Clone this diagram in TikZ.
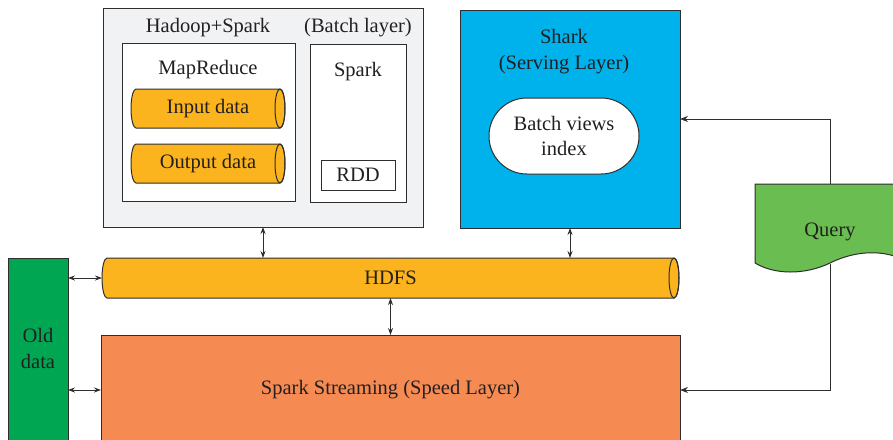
\documentclass[tikz,border=0pt]{standalone}
\usepackage{fontspec}
\setmainfont{Liberation Serif}
\usetikzlibrary{arrows.meta}
\definecolor{linec}{HTML}{2E2E2E}
\definecolor{txtc}{HTML}{231F20}
\definecolor{batchgray}{HTML}{F1F2F4}
\definecolor{sharkblue}{HTML}{00B2EC}
\definecolor{cylorange}{HTML}{FBB41D}
\definecolor{oldgreen}{HTML}{00A651}
\definecolor{streamorange}{HTML}{F58B52}
\definecolor{querygreen}{HTML}{6ABD50}
% cylinder outline: left, top, right, bottom, x radius of end ellipse
\newcommand\cylshape[5]{%
  \path[draw=linec, line width=1pt, fill=cylorange]
    ({#1+#5},#2) -- ({#3-#5},#2)
    arc[start angle=-90, end angle=90, x radius=#5, y radius={(#4-#2)/2}]
    -- ({#1+#5},#4)
    arc[start angle=90, end angle=270, x radius=#5, y radius={(#4-#2)/2}]
    -- cycle;
  \draw[linec, line width=1pt] ({#3-#5},{(#2+#4)/2}) ellipse[x radius=#5, y radius={(#4-#2)/2}];
}
\begin{document}
\begin{tikzpicture}[x=1pt,y=-1pt,
  every node/.style={font=\fontsize{20.5}{25.5}\selectfont, text=txtc},
  box/.style={draw=linec, line width=1pt, rectangle, inner sep=0pt, outer sep=0pt},
  cyl/.style={rectangle, inner sep=0pt, outer sep=0pt},
  lbl/.style={anchor=base, inner sep=0pt},
  dbl/.style={draw=linec, line width=0.9pt, {Stealth[length=7pt,width=5pt]}-{Stealth[length=7pt,width=5pt]}},
  arr/.style={draw=linec, line width=0.9pt, -{Stealth[length=8pt,width=6pt]}}]
\useasboundingbox (0,0) rectangle (893,439);
\clip (0,0) rectangle (893,439);

% Batch layer
\node[box, fill=batchgray, minimum width=320pt, minimum height=219pt] (batch) at (263,117.5) {};
\node[lbl] (hs) at (208,32) {Hadoop+Spark};
\node[lbl] (bl) at (358,32) {(Batch layer)};
\node[box, fill=white, minimum width=173pt, minimum height=158pt] (mr) at (208.5,122) {};
\node[lbl] (mrt) at (208,74) {MapReduce};
\cylshape{131}{89}{285}{128}{5}
\node[cyl, minimum width=154pt, minimum height=39pt] (inp) at (208,108.5) {Input data};
\cylshape{131}{144}{285}{183}{5}
\node[cyl, minimum width=154pt, minimum height=39pt] (outp) at (208,163.5) {Output data};
\node[box, fill=white, minimum width=96pt, minimum height=158pt] (spk) at (358,123) {};
\node[lbl] (spkt) at (358,76) {Spark};
\node[box, fill=white, minimum width=74pt, minimum height=30pt] (rdd) at (358,175) {RDD};

% Serving layer
\node[box, fill=sharkblue, minimum width=220pt, minimum height=218pt] (shark) at (570,119) {};
\node[lbl] (sh1) at (564,43) {Shark};
\node[lbl] (sh2) at (564,69) {(Serving Layer)};
\node[box, fill=white, minimum width=150pt, minimum height=76pt, rounded corners=37.9pt, align=center] (bvi) at (564,136) {Batch views\\index};

% HDFS
\cylshape{102}{258}{679}{298}{5}
\node[cyl, minimum width=577pt, minimum height=40pt] (hdfs) at (390.5,278) {HDFS};

% Old data
\node[box, fill=oldgreen, minimum width=60pt, minimum height=187pt] (old) at (38,351.5) {};
\node[lbl] (old1) at (38,342) {Old};
\node[lbl] (old2) at (38,368) {data};

% Speed layer
\node[box, fill=streamorange, minimum width=579pt, minimum height=110pt] (stream) at (390.5,390) {Spark Streaming (Speed Layer)};

% Query
\path[draw=linec, line width=1pt, fill=querygreen]
  (897,184) -- (755,184) -- (755,263)
  .. controls (775,275) and (805,275) .. (830,263)
  .. controls (850,253) and (875,249) .. (897,257);
\node[inner sep=0pt] (query) at (830,231.5) {Query};
\coordinate (qtop) at (830,184);
\coordinate (qbot) at (830,264);

% Connectors
\draw[dbl] (batch.south) -- (batch.south |- hdfs.north);
\draw[dbl] (shark.south) -- (shark.south |- hdfs.north);
\draw[dbl] (hdfs.south) -- (stream.north);
\draw[dbl] (old.east |- hdfs.west) -- (hdfs.west);
\draw[dbl] (old.east |- stream.west) -- (stream.west);
\draw[arr] (qtop) |- (shark.east);
\draw[arr] (qbot) |- (stream.east);
\end{tikzpicture}
\end{document}
